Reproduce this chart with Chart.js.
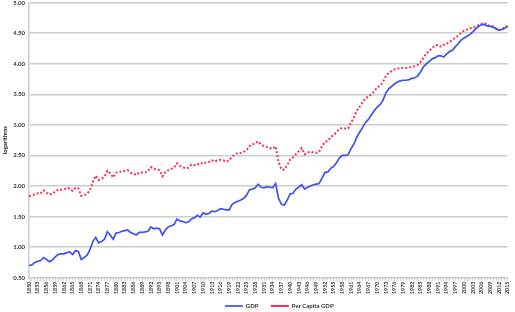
<!DOCTYPE html>
<html>
<head>
<meta charset="utf-8">
<script src="https://cdn.jsdelivr.net/npm/chart.js@4.4.0/dist/chart.umd.min.js"></script>
<style>
  html, body { margin: 0; padding: 0; background: #fff; }
  #wrap { width: 515px; height: 312px; position: relative; overflow: hidden; }
  #inner { position: absolute; left: 0; top: -5px; width: 515px; height: 321px; }
</style>
</head>
<body>
<div id="wrap"><div id="inner"><canvas id="gdpChart"></canvas></div></div>
<script>
// anos 1850..2015 (categorias)
const anos = [];
for (let a = 1850; a <= 2015; a++) anos.push(String(a));

// valores (logaritmos)
const gdp = [
  0.70, 0.71, 0.75, 0.77, 0.78, 0.83, 0.80, 0.76, 0.79, 0.84,
  0.88, 0.89, 0.89, 0.91, 0.92, 0.88, 0.94, 0.93, 0.80, 0.83,
  0.87, 0.96, 1.09, 1.16, 1.07, 1.09, 1.13, 1.25, 1.20, 1.13,
  1.23, 1.24, 1.26, 1.27, 1.28, 1.24, 1.22, 1.20, 1.24, 1.24,
  1.25, 1.26, 1.33, 1.30, 1.31, 1.30, 1.20, 1.28, 1.33, 1.35,
  1.37, 1.46, 1.43, 1.42, 1.40, 1.41, 1.46, 1.48, 1.52, 1.49,
  1.56, 1.54, 1.55, 1.59, 1.58, 1.60, 1.63, 1.62, 1.61, 1.61,
  1.70, 1.73, 1.75, 1.77, 1.80, 1.85, 1.94, 1.95, 1.97, 2.03,
  1.98, 1.97, 1.99, 1.98, 1.97, 2.04, 1.80, 1.70, 1.69, 1.77,
  1.87, 1.88, 1.95, 1.98, 2.02, 1.95, 1.98, 2.00, 2.02, 2.03,
  2.04, 2.13, 2.22, 2.23, 2.29, 2.32, 2.38, 2.46, 2.50, 2.50,
  2.51, 2.61, 2.69, 2.80, 2.88, 2.96, 3.04, 3.09, 3.16, 3.23,
  3.29, 3.33, 3.40, 3.52, 3.59, 3.63, 3.67, 3.70, 3.72, 3.73,
  3.73, 3.74, 3.76, 3.77, 3.80, 3.87, 3.95, 4.00, 4.04, 4.08,
  4.10, 4.13, 4.13, 4.11, 4.16, 4.20, 4.22, 4.28, 4.33, 4.39,
  4.42, 4.45, 4.48, 4.52, 4.57, 4.61, 4.64, 4.64, 4.62, 4.61,
  4.60, 4.57, 4.55, 4.56, 4.58, 4.61
];

const perCapita = [
  1.83, 1.85, 1.86, 1.88, 1.88, 1.93, 1.89, 1.86, 1.87, 1.91,
  1.94, 1.94, 1.94, 1.97, 1.96, 1.92, 1.97, 1.96, 1.84, 1.85,
  1.87, 1.93, 2.07, 2.17, 2.10, 2.12, 2.15, 2.25, 2.21, 2.14,
  2.22, 2.23, 2.24, 2.25, 2.26, 2.22, 2.20, 2.18, 2.22, 2.22,
  2.22, 2.24, 2.31, 2.28, 2.27, 2.26, 2.16, 2.23, 2.26, 2.28,
  2.30, 2.37, 2.33, 2.31, 2.29, 2.30, 2.35, 2.34, 2.36, 2.35,
  2.39, 2.38, 2.39, 2.42, 2.40, 2.42, 2.43, 2.42, 2.40, 2.42,
  2.48, 2.52, 2.54, 2.54, 2.56, 2.59, 2.65, 2.68, 2.70, 2.73,
  2.68, 2.65, 2.64, 2.62, 2.61, 2.65, 2.40, 2.27, 2.27, 2.34,
  2.43, 2.47, 2.52, 2.57, 2.62, 2.52, 2.55, 2.56, 2.55, 2.54,
  2.56, 2.65, 2.72, 2.74, 2.80, 2.83, 2.88, 2.93, 2.95, 2.94,
  2.94, 3.04, 3.12, 3.23, 3.30, 3.37, 3.44, 3.46, 3.50, 3.55,
  3.61, 3.64, 3.70, 3.80, 3.85, 3.88, 3.91, 3.92, 3.93, 3.93,
  3.93, 3.94, 3.95, 3.96, 3.98, 4.03, 4.10, 4.17, 4.21, 4.26,
  4.30, 4.31, 4.28, 4.31, 4.33, 4.36, 4.39, 4.43, 4.46, 4.51,
  4.54, 4.56, 4.58, 4.59, 4.61, 4.63, 4.65, 4.67, 4.63, 4.62,
  4.61, 4.58, 4.55, 4.57, 4.59, 4.62
];

const fonte = "Lato, 'Open Sans', sans-serif";

const ctx = document.getElementById('gdpChart').getContext('2d');
const chart = new Chart(ctx, {
  type: 'line',
  data: {
    labels: anos,
    datasets: [
      {
        label: 'GDP',
        data: gdp,
        borderColor: '#3f51f2',
        backgroundColor: '#3f51f2',
        borderWidth: 1.7,
        pointRadius: 0,
        tension: 0,
        fill: false
      },
      {
        label: 'Per Capita GDP',
        data: perCapita,
        borderColor: '#ff2d55',
        backgroundColor: '#ff2d55',
        borderWidth: 2,
        borderDash: [2, 2],
        pointRadius: 0,
        tension: 0,
        fill: false
      }
    ]
  },
  options: {
    responsive: true,
    maintainAspectRatio: false,
    animation: false,
    layout: { padding: { top: -7, right: 3, left: 0, bottom: -3 } },
    plugins: {
      tooltip: { enabled: false },
      legend: {
        position: 'bottom',
        labels: {
          usePointStyle: true,
          pointStyle: 'line',
          pointStyleWidth: 18,
          boxHeight: 2,
          padding: 8,
          color: '#333',
          font: { family: fonte, size: 6, weight: 'bold' },
          generateLabels: function (c) {
            const itens = Chart.defaults.plugins.legend.labels.generateLabels(c);
            itens[0].text = itens[0].text + '   ';
            // item vazio so para empurrar a legenda para a direita
            const vazio = {
              text: '            ',
              fillStyle: 'rgba(0,0,0,0)',
              strokeStyle: 'rgba(0,0,0,0)',
              fontColor: 'rgba(0,0,0,0)',
              lineWidth: 0,
              hidden: false,
              datasetIndex: -1
            };
            return [vazio].concat(itens);
          }
        }
      }
    },
    scales: {
      x: {
        grid: {
          drawOnChartArea: false,
          color: '#c9cfcf',
          tickLength: 3
        },
        border: { color: '#c9cfcf', width: 1.5 },
        ticks: {
          autoSkip: false,
          minRotation: 90,
          maxRotation: 90,
          padding: 1,
          color: '#333',
          font: { family: fonte, size: 5.3, weight: 'bold' },
          callback: function (v, i) {
            return i % 3 === 0 ? anos[i] : '';
          }
        }
      },
      y: {
        min: 0.5,
        max: 5,
        title: {
          display: true,
          text: 'logarithms',
          color: '#222',
          padding: 1,
          font: { family: fonte, size: 6, weight: 'bold' }
        },
        grid: { color: '#c9cfcf', lineWidth: 1.5, drawTicks: false },
        border: { color: '#c9cfcf', width: 1.5 },
        ticks: {
          stepSize: 0.5,
          padding: 4,
          color: '#333',
          font: { family: fonte, size: 6, weight: 'bold' },
          callback: v => v.toFixed(2)
        }
      }
    }
  }
});
</script>
</body>
</html>
